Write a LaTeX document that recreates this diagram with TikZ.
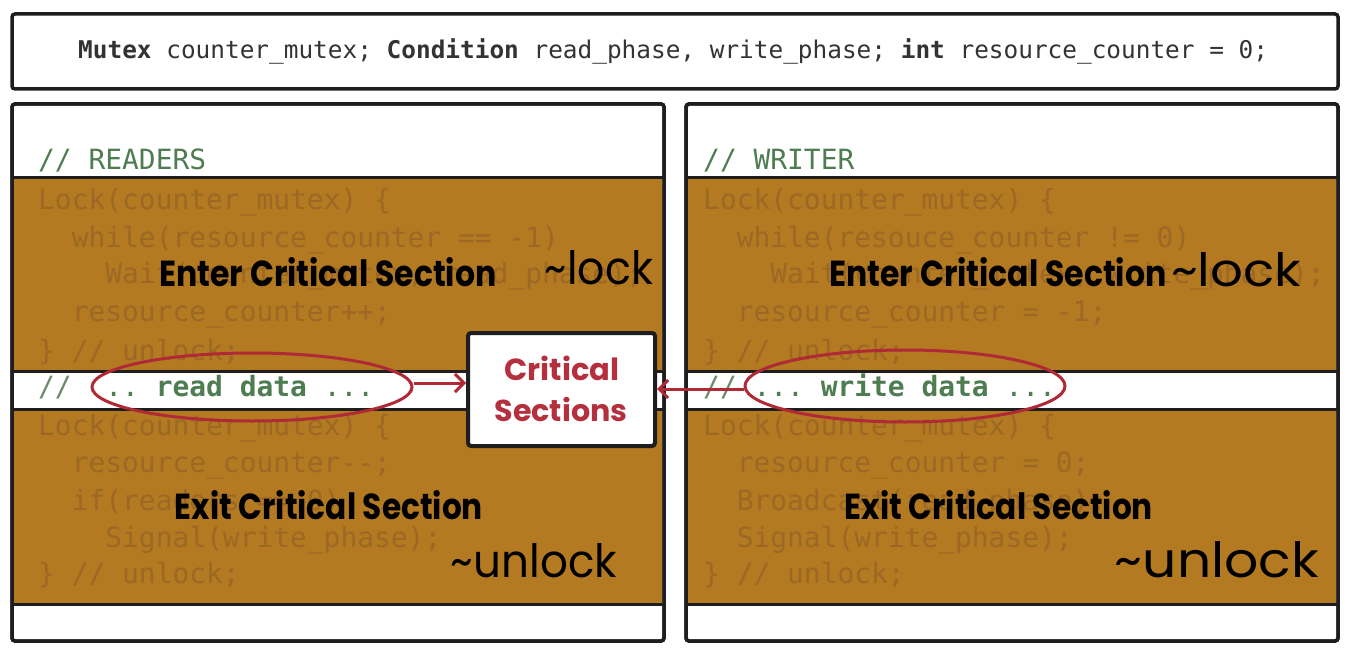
\documentclass[tikz,border=0pt]{standalone}
\usepackage{fontspec}
\usepackage{graphicx}
\setmonofont{DejaVu Sans Mono}
\newfontfamily\geo{Poppins}
\usetikzlibrary{arrows.meta,shapes.geometric,calc}

\definecolor{band}{HTML}{B37A22}
\definecolor{fade}{HTML}{9C6824}
\definecolor{cgreen}{HTML}{4F7D52}
\definecolor{cslash}{HTML}{6C8A6C}
\definecolor{hred}{HTML}{B02A36}
\definecolor{tred}{HTML}{B5303E}
\definecolor{frame}{HTML}{1E1E1E}

\tikzset{
  panelbox/.style={draw=frame, line width=3.5pt, rounded corners=3pt, fill=white},
  divider/.style={draw=frame, line width=3pt},
  codeline/.style={anchor=base west, inner sep=0pt, text=fade,
    font=\ttfamily\fontsize{27.9}{30}\selectfont},
  headline/.style={anchor=base west, inner sep=0pt, text=cgreen,
    font=\ttfamily\fontsize{27.9}{30}\selectfont},
  biglabel/.style={inner sep=0pt, text=black},
  handnote/.style={inner sep=0pt, text=black},
  ring/.style={draw=hred, line width=3pt},
  pointer/.style={draw=hred, line width=3pt, -{Straight Barb[length=9pt,width=18pt,line width=3pt]}},
}

\begin{document}
\begin{tikzpicture}[x=1pt,y=-1pt]
\useasboundingbox (0,0) rectangle (1354,655);

% declaration bar
\draw[panelbox] (12,14) rectangle (1338,89);
\node[anchor=base west, inner sep=0pt, font=\ttfamily\fontsize{24.4}{28}\selectfont, text=black!80] (decl) at (78,59)
  {\textbf{Mutex} counter\_mutex; \textbf{Condition} read\_phase, write\_phase; \textbf{int} resource\_counter = 0;};

% two panels with brown code bands
\foreach \px in {12, 686} {
  \draw[panelbox] (\px,104) rectangle ++(652,537);
  \fill[band] (\px+2,178) rectangle ++(648,193);
  \fill[band] (\px+2,409) rectangle ++(648,195);
  \draw[divider] (\px,178) -- ++(652,0);
  \draw[divider] (\px,371) -- ++(652,0);
  \draw[divider] (\px,409) -- ++(652,0);
  \draw[divider] (\px,604) -- ++(652,0);
  \draw[panelbox, fill=none] (\px,104) rectangle ++(652,537);
}

% headers
\node[headline] (rdhead) at (38,170) {// READERS};
\node[headline] (wrhead) at (703,170) {// WRITER};

% reader code (column, baseline, text)
\foreach \c/\y/\t in {
  0/210/{Lock(counter\_mutex) \{},
  2/247/{while(resource\_counter == -1)},
  4/283/{Wait(counter\_mutex, read\_phase);},
  2/321/{resource\_counter++;},
  0/360/{\} // unlock;},
  0/435/{Lock(counter\_mutex) \{},
  2/472/{resource\_counter-{}-;},
  2/510/{if(readers == 0)},
  4/547/{Signal(write\_phase);},
  0/583/{\} // unlock;}} {
  \node[codeline] (rc\y) at (38+\c*16.8,\y) {\t};
}

% writer code
\foreach \c/\y/\t in {
  0/210/{Lock(counter\_mutex) \{},
  2/247/{while(resouce\_counter != 0)},
  4/283/{Wait(counter\_mutex, write\_phase);},
  2/321/{resource\_counter = -1;},
  0/360/{\} // unlock;},
  0/435/{Lock(counter\_mutex) \{},
  2/472/{resource\_counter = 0;},
  2/510/{Broadcast(read\_phase);},
  2/547/{Signal(write\_phase);},
  0/583/{\} // unlock;}} {
  \node[codeline] (wc\y) at (703+\c*16.8,\y) {\t};
}

% data lines in the white stripes
\node[headline, text=cslash] (rdsl) at (38,396) {//};
\node[headline] (rddot1) at (38+4*16.8,396) {..};
\node[headline] (rddata) at (38+7*16.8,396) {\textbf{read data}};
\node[headline] (rddot2) at (38+17*16.8,396) {...};
\node[headline, text=cslash] (wrsl) at (703,396) {//};
\node[headline] (wrdot1) at (703+3*16.8,396) {...};
\node[headline] (wrdata) at (703+7*16.8,396) {\textbf{write data}};
\node[headline] (wrdot2) at (703+18*16.8,396) {...};

% section labels
\node[biglabel] (lenter) at (328,272) {\resizebox{337pt}{29pt}{\geo\bfseries Enter Critical Section}};
\node[biglabel] (renter) at (998,272) {\resizebox{337pt}{29pt}{\geo\bfseries Enter Critical Section}};
\node[biglabel] (lexit) at (329,505) {\resizebox{308pt}{29pt}{\geo\bfseries Exit Critical Section}};
\node[biglabel] (rexit) at (999,505) {\resizebox{308pt}{29pt}{\geo\bfseries Exit Critical Section}};

% pencil notes
\node[handnote] (llock) at (599,268) {\resizebox{108pt}{34pt}{\geo\textasciitilde lock}};
\node[handnote] (rlock) at (1236,270) {\resizebox{130pt}{34pt}{\geo\textasciitilde lock}};
\node[handnote] (lunlock) at (534,561) {\resizebox{166pt}{34pt}{\geo\textasciitilde unlock}};
\node[handnote] (runlock) at (1217,560) {\resizebox{204pt}{36pt}{\geo\textasciitilde unlock}};

% highlighted regions
\node[ring, ellipse, minimum width=320pt, minimum height=68pt, inner sep=0pt] (lring) at (252,387) {};
\node[ring, ellipse, minimum width=320pt, minimum height=72pt, inner sep=0pt] (rring) at (905,386) {};

% critical sections box
\node[draw=frame, line width=4pt, rounded corners=3pt, fill=white, minimum width=187pt, minimum height=113pt, inner sep=0pt] (cs) at (561.5,389.5) {};
\node[inner sep=0pt, text=tred] (cs1) at (562,368) {\resizebox{115pt}{!}{\geo\bfseries Critical}};
\node[inner sep=0pt, text=tred] (cs2) at (561,410) {\resizebox{133pt}{!}{\geo\bfseries Sections}};

% pointers into the box
\coordinate (lfrom) at ($(lring.east)+(0,-4)$);
\coordinate (rfrom) at ($(rring.west)+(0,3)$);
\draw[pointer] (lfrom) -- (lfrom -| cs.west);
\draw[pointer] (rfrom) -- (rfrom -| cs.east);
\end{tikzpicture}
\end{document}
